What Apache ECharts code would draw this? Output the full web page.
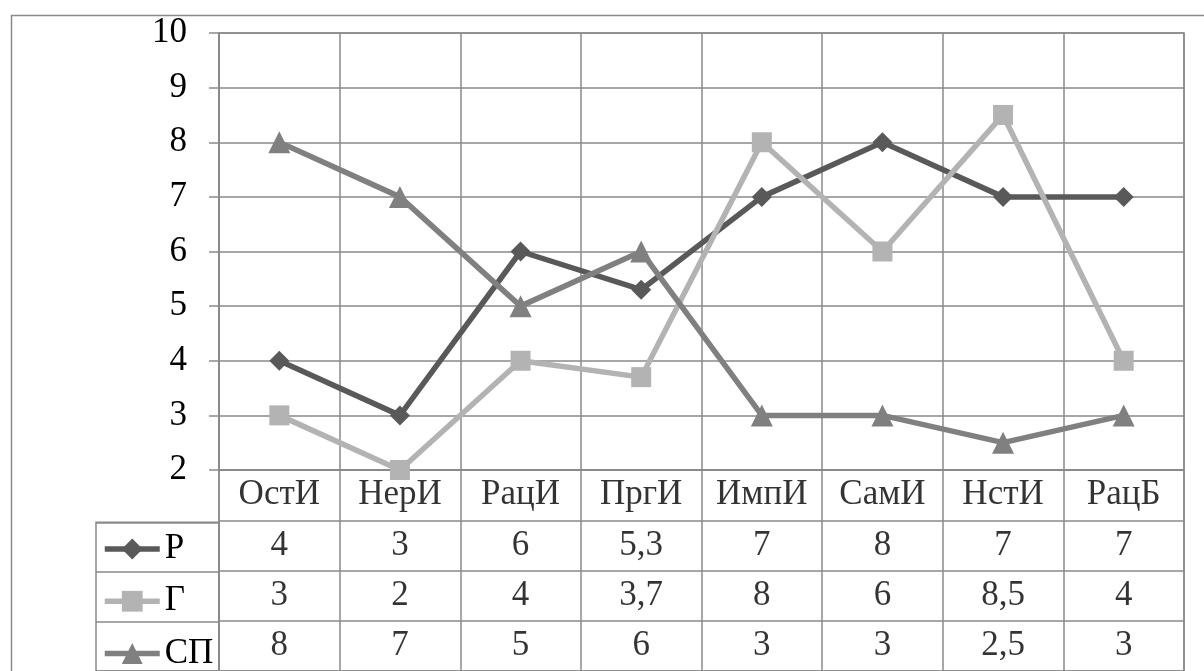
<!DOCTYPE html>
<html>
<head>
<meta charset="utf-8">
<script src="https://cdn.jsdelivr.net/npm/echarts@6/dist/echarts.min.js"></script>
<style>
html,body{margin:0;padding:0;background:#fff;}
#c{width:1204px;height:671px;}
</style>
</head>
<body>
<div id="c"></div>
<script>
const categories = ['ОстИ', 'НерИ', 'РацИ', 'ПргИ', 'ИмпИ', 'СамИ', 'НстИ', 'РацБ'];
const seriesNames = ['Р', 'Г', 'СП'];
const valuesR = [4, 3, 6, 5.3, 7, 8, 7, 7];
const valuesG = [3, 2, 4, 3.7, 8, 6, 8.5, 4];
const valuesSP = [8, 7, 5, 6, 3, 3, 2.5, 3];
const yTicks = [2, 3, 4, 5, 6, 7, 8, 9, 10];

const FONT = 'Liberation Serif';
const FS = 35;
const GRID = '#8a8a8a';
const GW = 1.5;
const allValues = [valuesR, valuesG, valuesSP];
const colors = ['#595959', '#b3b3b3', '#808080'];
const symbols = ['diamond', 'rect', 'triangle'];

const fmt = v => String(v).replace('.', ',');

const tableData = [];
categories.forEach((c, i) => tableData.push({ value: [i, 0], txt: c }));
allValues.forEach((arr, r) => arr.forEach((v, i) => tableData.push({ value: [i, r + 1], txt: fmt(v) })));

const chart = echarts.init(document.getElementById('c'), null, { renderer: 'canvas' });
const option = {
  animation: false,
  backgroundColor: '#fff',
  textStyle: { fontFamily: FONT },
  graphic: [{
    type: 'rect', left: 9, top: 13, silent: true, z: -10,
    shape: { x: 0, y: 0, width: 1400, height: 900 },
    style: { fill: 'none', stroke: GRID, lineWidth: 1.5 }
  }],
  legend: {
    data: seriesNames,
    orient: 'vertical',
    left: 102, top: 531.5,
    padding: 0,
    itemWidth: 55, itemHeight: 26, itemGap: 17.25,
    lineStyle: { width: 5.5 },
    textStyle: { fontFamily: FONT, fontSize: FS, lineHeight: 35, color: '#000' },
    selectedMode: false
  },
  grid: [
    { left: 219, top: 33, width: 965, height: 437, show: true, borderColor: GRID, borderWidth: GW },
    { left: 219, top: 470, width: 965, height: 209, show: true, borderColor: GRID, borderWidth: GW },
    { left: 96, top: 522.25, width: 123, height: 156.75, show: true, borderColor: GRID, borderWidth: GW }
  ],
  xAxis: [
    { type: 'category', gridIndex: 0, data: categories, boundaryGap: true,
      axisLine: { show: true, lineStyle: { color: GRID, width: GW } },
      axisTick: { show: false }, axisLabel: { show: false },
      splitLine: { show: true, lineStyle: { color: GRID, width: GW } } },
    { type: 'category', gridIndex: 1, data: categories, boundaryGap: true,
      axisLine: { show: false }, axisTick: { show: false }, axisLabel: { show: false },
      splitLine: { show: true, lineStyle: { color: GRID, width: GW } } },
    { type: 'value', gridIndex: 2, show: false, min: 0, max: 1 }
  ],
  yAxis: [
    { type: 'value', gridIndex: 0, min: yTicks[0], max: yTicks[yTicks.length - 1], interval: 1,
      axisLine: { show: true, lineStyle: { color: GRID, width: GW } },
      axisTick: { show: true, length: 10, lineStyle: { color: GRID, width: GW } },
      axisLabel: { fontFamily: FONT, fontSize: FS, color: '#000', margin: 32 },
      splitLine: { show: true, lineStyle: { color: GRID, width: GW } } },
    { type: 'category', gridIndex: 1, inverse: true, data: [''].concat(seriesNames),
      axisLine: { show: false }, axisTick: { show: false }, axisLabel: { show: false },
      splitLine: { show: true, lineStyle: { color: GRID, width: GW } } },
    { type: 'category', gridIndex: 2, inverse: true, data: seriesNames,
      axisLine: { show: false }, axisTick: { show: false }, axisLabel: { show: false },
      splitLine: { show: true, lineStyle: { color: GRID, width: GW } } }
  ],
  series: allValues.map((arr, k) => ({
    name: seriesNames[k], type: 'line', xAxisIndex: 0, yAxisIndex: 0,
    data: arr, symbol: symbols[k], symbolSize: k === 2 ? 22 : 20,
    color: colors[k],
    lineStyle: { color: colors[k], width: 5.5 },
    itemStyle: { color: colors[k] },
    z: 3 + k
  })).concat([{
    type: 'scatter', name: 'table', xAxisIndex: 1, yAxisIndex: 1,
    data: tableData, symbolSize: 1, itemStyle: { color: 'rgba(0,0,0,0)' }, silent: true,
    label: { show: true, position: 'inside', fontFamily: FONT, fontSize: FS, color: '#000',
      formatter: p => p.data.txt }
  }])
};
chart.setOption(option);
</script>
</body>
</html>
